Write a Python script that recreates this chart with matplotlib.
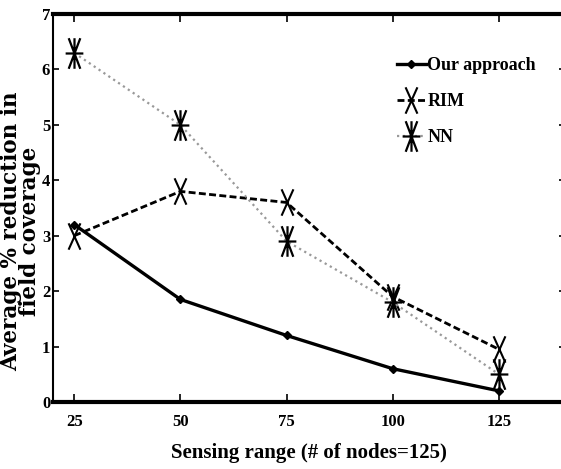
import matplotlib
matplotlib.use("Agg")
import matplotlib.pyplot as plt
from matplotlib.path import Path

sensing_range = [25, 50, 75, 100, 125]
our_approach = [3.2, 1.85, 1.2, 0.6, 0.2]
rim = [3.0, 3.8, 3.6, 1.9, 0.95]
nn = [6.3, 5.0, 2.9, 1.8, 0.5]
y_ticks = [0, 1, 2, 3, 4, 5, 6, 7]

# tall narrow markers like the original
x_mark = Path([(-0.45, -1), (0.45, 1), (-0.45, 1), (0.45, -1)],
              [Path.MOVETO, Path.LINETO, Path.MOVETO, Path.LINETO])
star_mark = Path([(-0.38, -1), (0.38, 1), (-0.38, 1), (0.38, -1),
                  (0, -1), (0, 1), (-0.58, 0), (0.58, 0)],
                 [Path.MOVETO, Path.LINETO, Path.MOVETO, Path.LINETO,
                  Path.MOVETO, Path.LINETO, Path.MOVETO, Path.LINETO])

plt.rcParams['font.family'] = ['Liberation Serif', 'DejaVu Serif']
plt.rcParams['font.weight'] = 'bold'

fig = plt.figure(figsize=(5.61, 4.69), dpi=100)
ax = fig.add_axes([0.0945, 0.143, 0.912, 0.827])

ax.plot(sensing_range, our_approach, color='black', lw=2.4, marker='D',
        ms=4, label='Our approach')
ax.plot(sensing_range, rim, color='black', lw=2.0, ls=(0, (2.5, 1.2)),
        marker=x_mark, ms=19, mew=1.5, label='RIM')
ax.plot(sensing_range, nn, color='0.6', lw=1.6, ls=':',
        marker=star_mark, ms=22, mec='black', mew=1.6, label='NN')

ax.set_xlim(20, 140.5)
ax.set_ylim(0, 7)
ax.set_xticks(sensing_range)
ax.set_yticks(y_ticks)
ax.tick_params(direction='in', length=6, width=1.2, top=True, right=True,
               labelsize=12, pad=9)
ax.tick_params(axis='y', length=4, pad=2)
ax.spines['top'].set_linewidth(3)
ax.spines['bottom'].set_linewidth(3)
ax.spines['left'].set_linewidth(1.5)

ax.set_xlabel('Sensing range (# of nodes=125)', fontsize=15, fontweight='bold',
              labelpad=9)
ax.set_ylabel('Average % reduction in\nfield coverage', fontsize=15.5,
              fontweight='bold', family='DejaVu Serif', linespacing=0.78)
ax.yaxis.set_label_coords(-0.024, 0.44)

ax.legend(loc='upper left', bbox_to_anchor=(0.64, 0.93), frameon=False,
          fontsize=13, handlelength=1.6, handletextpad=0.1, labelspacing=1.05)

fig.savefig('out.png', dpi=100)
